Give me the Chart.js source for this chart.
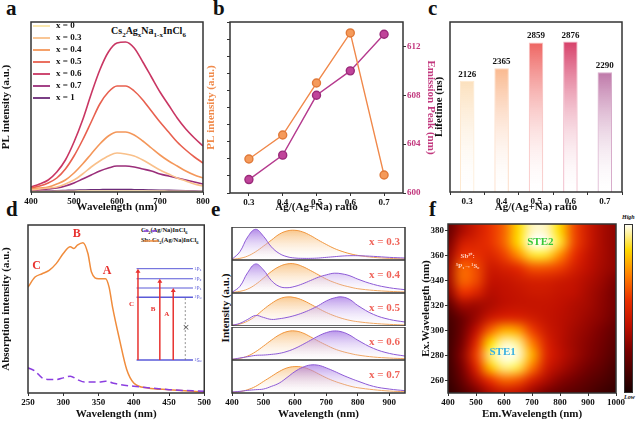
<!DOCTYPE html>
<html><head><meta charset="utf-8">
<script src="https://cdn.jsdelivr.net/npm/chart.js@4.4.0/dist/chart.umd.min.js"></script>
<style>
body{margin:0;width:639px;height:421px;background:#fff;position:relative;overflow:hidden;font-family:"Liberation Serif",serif}
canvas{position:absolute}
.t{position:absolute;font-weight:bold;white-space:nowrap;color:#111}
.L{font-size:21px;font-family:"Liberation Serif",serif}
.rot{transform:rotate(-90deg);transform-origin:center}
sub{font-size:70%}
</style></head><body>
<div class="t L" style="left:6px;top:-4px">a</div>
<div class="t L" style="left:213px;top:-4px">b</div>
<div class="t L" style="left:428px;top:-4px">c</div>
<div class="t L" style="left:6px;top:197px">d</div>
<div class="t L" style="left:211px;top:197px">e</div>
<div class="t L" style="left:429px;top:197px">f</div>
<div class="t" style="left:111px;top:25px;font-size:10px">Cs<sub>2</sub>Ag<sub>x</sub>Na<sub>1-x</sub>InCl<sub>6</sub></div>
<div class="t" style="left:141px;top:226px;font-size:6.5px">Cs<sub>2</sub>(Ag/Na)InCl<sub>6</sub></div>
<div class="t" style="left:141px;top:236px;font-size:6.5px">Sb: Cs<sub>2</sub>(Ag/Na)InCl<sub>6</sub></div>
<div class="t rot" style="left:180px;top:302px;width:90px;text-align:center;font-size:11px">Intensity (a.u.)</div>
<div style="position:absolute;left:624px;top:224px;width:9px;height:169px;border:1px solid #333;box-sizing:border-box;background:linear-gradient(#fffff0,#ffd800 15%,#ff8000 30%,#e83000 45%,#c01000 60%,#7a0000 75%,#1a0000)"></div>
<div class="t" style="left:622px;top:214px;font-size:6px;font-style:italic">High</div>
<div class="t" style="left:624px;top:394px;font-size:6px;font-style:italic">Low</div>
<script>
// ---- panel a: PL spectra ----
const aWave = [400,420,440,460,480,500,520,540,560,580,600,620,640,660,680,700,720,740,760,780,800];
const aLabels = ['x = 0','x = 0.3','x = 0.4','x = 0.5','x = 0.6','x = 0.7','x = 1'];
const aColors = ['#fbe6a6','#f9c08a','#f4975a','#e8604f','#c93663','#9a2e7a','#6b2a78'];
const aX0  = [0.3,0.4,0.5,0.6,0.7,0.8,0.9,1,1,1,1,1,1,1,1,0.9,0.8,0.7,0.6,0.5,0.4];
const aX03 = [2,3,4,5,8,12,18,25,31,36,39,38,36,32,27,22,18,14,11,8,6];
const aX04 = [3,4,5,8,12,19,28,38,48,56,60,60,57,51,44,37,31,26,21,17,14];
const aX05 = [4,6,9,14,23,36,52,70,88,100,106,106,101,92,81,70,60,50,42,35,29];
const aX06 = [5,8,12,20,32,50,72,98,122,140,149,150,144,130,115,100,87,74,63,54,46];
const aX07 = [1,2,3,4,6,9,13,17,21,24,26,26,25,23,21,18,16,14,12,10,8];
const aX1  = [0.5,0.8,1,1.2,1.5,1.8,2,2.2,2.3,2.4,2.4,2.4,2.3,2.2,2,1.8,1.6,1.4,1.2,1,0.8];
const aTicks = [400,500,600,700,800];

// ---- panel b ----
const ratio = [0.3,0.4,0.5,0.6,0.7];
const bPL = [19.9,33.9,64.3,93.6,10.5];
const bPeak = [601.1,603.1,608,610,613];
const bPeakTicks = [600,604,608,612];

// ---- panel c ----
const cLabels = ['0.3','0.4','0.5','0.6','0.7'];
const cLife = [2126,2365,2859,2876,2290];
const cColors = ['#f9c98b','#f79a5e','#ee6360','#d7416a','#9c2f7a'];

// ---- panel d ----
const dWaveSb = [250,260,270,280,290,300,310,315,320,328,335,340,350,360,365,370,380,390,400,420,450,500];
const dAbsSb  = [63,69,71,73,77,83,87,86,88,89.5,83,72,68,68,63,51,31.5,14,6,3,2,0.5];
const dWaveH  = [250,260,270,280,290,300,310,320,330,340,350,360,370,380,400,450,500];
const dAbsH   = [15,13,9,8,8,9,10,8,6.5,6.5,6.5,7,6,5,4,2,1];
const dTicks = [250,300,350,400,450,500];

// ---- panel e ----
const eWave = [400,425,450,475,500,525,550,575,600,625,650,675,700,725,750,775,800,850,900,950];
const eTags = ['x = 0.3','x = 0.4','x = 0.5','x = 0.6','x = 0.7'];
const eOrange = [
  [.02,.05,.12,.25,.42,.6,.78,.88,.9,.85,.74,.6,.47,.35,.26,.19,.14,.08,.05,.03],
  [.02,.05,.12,.26,.45,.65,.8,.88,.88,.8,.68,.55,.42,.32,.24,.18,.13,.08,.05,.03],
  [.02,.06,.15,.3,.5,.68,.82,.88,.86,.78,.66,.53,.41,.31,.23,.17,.13,.08,.05,.03],
  [.02,.05,.12,.25,.42,.6,.76,.86,.88,.82,.7,.57,.45,.34,.26,.2,.15,.09,.06,.04],
  [.02,.04,.1,.2,.35,.5,.65,.76,.8,.78,.7,.58,.46,.36,.28,.21,.16,.1,.06,.04]];
const ePurple = [
  [.02,.25,.7,.93,.72,.4,.2,.1,.06,.05,.05,.06,.08,.1,.12,.13,.13,.11,.08,.06],
  [.02,.2,.62,.88,.7,.38,.2,.16,.2,.28,.38,.48,.55,.6,.58,.52,.42,.26,.16,.1],
  [.02,.08,.2,.32,.26,.2,.22,.26,.32,.4,.5,.62,.76,.85,.88,.8,.62,.35,.2,.12],
  [.02,.06,.1,.14,.15,.17,.2,.26,.35,.47,.6,.73,.83,.88,.85,.75,.6,.35,.2,.12],
  [.03,.05,.08,.1,.12,.2,.3,.47,.65,.78,.85,.84,.76,.66,.55,.45,.36,.2,.12,.07]];
const eTicks = [400,500,600,700,800,900];

// ---- panel f: PLE map, rows ex 380 -> 250, cols em 400..1000 step 50 ----
const fEm = [400,450,500,550,600,650,700,750,800,850,900,950,1000];
const fEx = [380,370,360,350,340,330,320,310,300,290,280,270,260,250];
const fMap = [
  [.2,.35,.45,.55,.65,.85,.97,.97,.85,.6,.45,.35,.3],
  [.25,.45,.5,.55,.65,.85,1,1,.88,.6,.45,.35,.3],
  [.3,.55,.55,.5,.58,.72,.88,.88,.72,.55,.42,.35,.3],
  [.33,.65,.6,.45,.48,.53,.62,.62,.58,.48,.4,.34,.3],
  [.33,.65,.6,.42,.42,.45,.48,.48,.45,.42,.37,.32,.26],
  [.28,.55,.5,.38,.4,.42,.44,.44,.42,.4,.35,.3,.24],
  [.18,.33,.33,.36,.4,.42,.42,.42,.4,.37,.34,.29,.24],
  [.12,.22,.32,.44,.5,.5,.46,.42,.39,.36,.32,.28,.22],
  [.1,.22,.4,.65,.78,.75,.58,.45,.39,.34,.3,.25,.19],
  [.1,.25,.52,.85,.97,.94,.7,.5,.39,.33,.28,.23,.17],
  [.1,.28,.58,.92,1,.98,.78,.52,.4,.33,.27,.21,.15],
  [.09,.25,.5,.8,.93,.9,.68,.46,.36,.29,.23,.18,.12],
  [.08,.2,.36,.55,.65,.62,.48,.36,.28,.23,.18,.14,.1],
  [.06,.14,.24,.36,.42,.4,.32,.25,.2,.17,.14,.1,.07]];
const fTicksX = [400,500,600,700,800,900,1000];
const fTicksY = [260,280,300,320,340,360,380];

const SERIF = 'Liberation Serif';
const tickFont = {family: SERIF, weight: 'bold', size: 9};
const titleFont = {family: SERIF, weight: 'bold', size: 11};
const pts = (xs, ys) => xs.map((x, i) => ({x: x, y: ys[i]}));

const frame = {
  id: 'frame',
  afterDatasetsDraw(chart) {
    const a = chart.chartArea, c = chart.ctx;
    c.save(); c.strokeStyle = '#333'; c.lineWidth = 1.5;
    c.strokeRect(a.left, a.top, a.right - a.left, a.bottom - a.top);
    c.restore();
  }
};

function mk(left, top, w, h, cfg) {
  const cv = document.createElement('canvas');
  cv.width = w; cv.height = h;
  cv.style.left = left + 'px'; cv.style.top = top + 'px';
  cv.style.width = w + 'px'; cv.style.height = h + 'px';
  document.body.appendChild(cv);
  cfg.options = Object.assign({responsive: false, animation: false, devicePixelRatio: 1}, cfg.options);
  cfg.options.plugins = Object.assign({legend: {display: false}, tooltip: {enabled: false}}, cfg.options.plugins || {});
  cfg.plugins = [frame].concat(cfg.plugins || []);
  return new Chart(cv, cfg);
}

function lin(opts) {
  // a linear axis with fixed box size and explicit tick list
  const s = {
    type: 'linear', min: opts.min, max: opts.max, position: opts.pos,
    display: opts.show !== false,
    grid: {drawOnChartArea: false, tickLength: 3, color: '#333', tickColor: '#333'},
    border: {display: false},
    ticks: {font: tickFont, color: opts.color || '#111', padding: 1, autoSkip: false,
      callback: opts.noLabels ? () => '' : (v) => v},
    title: {display: !!opts.title, text: opts.title, font: titleFont, color: opts.color || '#111', padding: 0},
    afterFit: (sc) => { if (opts.pos === 'bottom') sc.height = opts.size; else sc.width = opts.size; }
  };
  if (opts.ticks) s.afterBuildTicks = (sc) => { sc.ticks = opts.ticks.map(v => ({value: v})); };
  return s;
}

// ----- a -----
mk(0, 0, 212, 214, {
  type: 'line',
  data: {datasets: [aX0, aX03, aX04, aX05, aX06, aX07, aX1].map((d, i) => ({
    label: aLabels[i], data: pts(aWave, d), borderColor: aColors[i], borderWidth: 1.6,
    pointRadius: 0, cubicInterpolationMode: 'monotone'}))},
  options: {
    layout: {padding: {top: 22, right: 9}},
    scales: {
      x: lin({min: 400, max: 800, pos: 'bottom', size: 22, ticks: aTicks, title: 'Wavelength (nm)'}),
      y: lin({min: 0, max: 170, pos: 'left', size: 31, ticks: [], title: 'PL intensity (a.u.)'})
    }
  },
  plugins: [{
    id: 'aLegend',
    afterDatasetsDraw(chart) {
      const c = chart.ctx, a = chart.chartArea;
      c.save(); c.font = 'bold 9px "Liberation Serif"'; c.textBaseline = 'middle';
      chart.data.datasets.forEach((ds, i) => {
        const y = a.top + 4 + i * 12;
        c.strokeStyle = ds.borderColor; c.lineWidth = 1.8;
        c.beginPath(); c.moveTo(a.left + 2, y); c.lineTo(a.left + 19, y); c.stroke();
        c.fillStyle = '#111'; c.fillText(ds.label, a.left + 25, y);
      });
      c.restore();
    }
  }]
});

// ----- b -----
mk(205, 0, 232, 214, {
  type: 'line',
  data: {datasets: [
    {data: pts(ratio, bPL), yAxisID: 'y', borderColor: '#f0884a', backgroundColor: '#f59a5a',
      borderWidth: 1.4, pointRadius: 4, pointBorderColor: '#e07a3a'},
    {data: pts(ratio, bPeak), yAxisID: 'y2', borderColor: '#b53a8e', backgroundColor: '#c0449a',
      borderWidth: 1.4, pointRadius: 4, pointBorderColor: '#9a2a7a'}]},
  options: {
    layout: {padding: {top: 22}},
    scales: {
      x: lin({min: 0.244, max: 0.756, pos: 'bottom', size: 21, ticks: ratio, title: 'Ag/(Ag+Na) ratio'}),
      y: lin({min: 0, max: 100, pos: 'left', size: 25, noLabels: true, ticks: [0,10,20,30,40,50,60,70,80,90,100],
        title: 'PL intensity (a.u.)', color: '#f08a4b'}),
      y2: lin({min: 600, max: 614, pos: 'right', size: 34, ticks: bPeakTicks,
        title: 'Emission Peak (nm)', color: '#c2387e'})
    }
  }
});

// ----- c -----
mk(433, 0, 206, 214, {
  type: 'bar',
  data: {labels: cLabels, datasets: [{
    data: cLife, borderWidth: 1, barPercentage: 0.42, categoryPercentage: 1,
    borderColor: cColors.map(c => c + '66'),
    backgroundColor: (ctx) => {
      const a = ctx.chart.chartArea; if (!a) return cColors[ctx.dataIndex];
      const g = ctx.chart.ctx.createLinearGradient(0, a.top + 20, 0, a.bottom);
      g.addColorStop(0, cColors[ctx.dataIndex]); g.addColorStop(1, 'rgba(255,255,255,0.1)');
      return g;
    }}]},
  options: {
    layout: {padding: {top: 22, right: 17}},
    scales: {
      x: {type: 'category', offset: true, grid: {drawOnChartArea: false, tickLength: 3, color: '#333'},
        border: {display: false}, ticks: {font: tickFont, color: '#111', padding: 1},
        title: {display: true, text: 'Ag/(Ag+Na) ratio', font: titleFont, color: '#111', padding: 0},
        afterFit: (s) => { s.height = 22; }},
      y: lin({min: 0, max: 3250, pos: 'left', size: 17, ticks: [], title: 'Lifetime (ns)'})
    }
  },
  plugins: [{
    id: 'cVals',
    afterDatasetsDraw(chart) {
      const c = chart.ctx; c.save(); c.font = 'bold 9px "Liberation Serif"';
      c.textAlign = 'center'; c.fillStyle = '#111';
      chart.getDatasetMeta(0).data.forEach((b, i) => c.fillText(cLife[i], b.x, b.y - 4));
      c.restore();
    }
  }]
});

// ----- d -----
mk(0, 212, 212, 209, {
  type: 'line',
  data: {datasets: [
    {data: pts(dWaveH, dAbsH), borderColor: '#8b3ee0', borderDash: [7, 4], borderWidth: 1.5, pointRadius: 0, cubicInterpolationMode: 'monotone'},
    {data: pts(dWaveSb, dAbsSb), borderColor: '#f08c3c', borderWidth: 1.5, pointRadius: 0, cubicInterpolationMode: 'monotone'}]},
  options: {
    layout: {padding: {top: 13, right: 7}},
    scales: {
      x: lin({min: 250, max: 500, pos: 'bottom', size: 28, ticks: dTicks, title: 'Wavelength (nm)'}),
      y: lin({min: 0, max: 100, pos: 'left', size: 28, ticks: [], title: 'Absorption intensity (a.u.)'})
    }
  },
  plugins: [{
    id: 'dNotes',
    afterDatasetsDraw(chart) {
      const c = chart.ctx, X = chart.scales.x, Y = chart.scales.y;
      const px = (w) => X.getPixelForValue(w), py = (v) => Y.getPixelForValue(v);
      c.save();
      c.font = 'bold 12px "Liberation Serif"'; c.fillStyle = '#e8322f'; c.textAlign = 'center';
      c.fillText('C', px(262), py(74)); c.fillText('B', px(319), py(93)); c.fillText('A', px(362), py(71));
      // legend marks
      c.strokeStyle = '#8b3ee0'; c.lineWidth = 1.5; c.setLineDash([5, 3]);
      c.beginPath(); c.moveTo(px(414), py(96.5)); c.lineTo(px(435), py(96.5)); c.stroke();
      c.setLineDash([]); c.strokeStyle = '#f08c3c';
      c.beginPath(); c.moveTo(px(414), py(90.5)); c.lineTo(px(435), py(90.5)); c.stroke();
      // energy level inset
      const levels = [74, 68, 62.5, 57], names = ['¹P₁', '³P₂', '³P₁', '³P₀'];
      c.strokeStyle = '#5a5ad8'; c.lineWidth = 1;
      levels.forEach((v, i) => {
        c.lineWidth = i === 3 ? 1.6 : 1;
        c.beginPath(); c.moveTo(px(404), py(v)); c.lineTo(px(484), py(v)); c.stroke();
      });
      c.lineWidth = 1.6; c.beginPath(); c.moveTo(px(404), py(19.6)); c.lineTo(px(484), py(19.6)); c.stroke();
      c.font = '5px "DejaVu Sans"'; c.fillStyle = '#5a5ad8'; c.textAlign = 'left';
      levels.forEach((v, i) => c.fillText(names[i], px(486), py(v) + 2));
      c.fillText('¹S₀', px(486), py(19.6) + 2);
      const arrows = [[406, 74, 'C'], [437, 68, 'B'], [456, 62.5, 'A']];
      c.strokeStyle = '#e8322f'; c.fillStyle = '#e8322f'; c.font = 'bold 7px "Liberation Serif"';
      arrows.forEach(([w, v, l]) => {
        c.lineWidth = 1.5;
        c.beginPath(); c.moveTo(px(w), py(19.6)); c.lineTo(px(w), py(v) + 3); c.stroke();
        c.beginPath(); c.moveTo(px(w) - 2.5, py(v) + 4); c.lineTo(px(w) + 2.5, py(v) + 4); c.lineTo(px(w), py(v)); c.fill();
        c.fillText(l, px(w) - 9, py((v + 19.6) / 2 + 5));
      });
      c.strokeStyle = '#777'; c.lineWidth = 0.8; c.setLineDash([2, 2]);
      c.beginPath(); c.moveTo(px(473), py(19.6)); c.lineTo(px(473), py(57)); c.stroke();
      c.setLineDash([]); c.font = '9px "DejaVu Sans"'; c.fillStyle = '#555';
      c.fillText('×', px(473) - 3, py(39) + 3);
      c.restore();
    }
  }]
});

// ----- e: five stacked panels -----
const eTops = [227, 260, 293, 327, 360];
eTags.forEach((tag, k) => {
  const last = k === 4;
  const h = 33 + (last ? 28 : 0);
  const fill = (rgba) => (ctx) => {
    const a = ctx.chart.chartArea; if (!a) return rgba;
    const g = ctx.chart.ctx.createLinearGradient(0, a.top, 0, a.bottom);
    g.addColorStop(0, rgba); g.addColorStop(1, 'rgba(255,255,255,0.15)');
    return g;
  };
  mk(215, eTops[k], 205, h, {
    type: 'line',
    data: {datasets: [
      {data: pts(eWave, ePurple[k]), borderColor: '#8d5ad6', borderWidth: 1, pointRadius: 0, tension: 0.4,
        fill: 'origin', backgroundColor: fill('rgba(140,80,220,0.75)')},
      {data: pts(eWave, eOrange[k]), borderColor: '#f0953c', borderWidth: 1, pointRadius: 0, tension: 0.4,
        fill: 'origin', backgroundColor: fill('rgba(245,160,60,0.7)')}]},
    options: {
      layout: {padding: {left: 17, right: 15}},
      scales: {
        x: last ? lin({min: 400, max: 950, pos: 'bottom', size: 28, ticks: eTicks, title: 'Wavelength (nm)'})
                : {type: 'linear', min: 400, max: 950, display: false},
        y: {type: 'linear', min: 0, max: 1, display: false}
      }
    },
    plugins: [{
      id: 'eTag',
      afterDatasetsDraw(chart) {
        const c = chart.ctx, a = chart.chartArea;
        c.save(); c.font = 'bold 11px "Liberation Serif"'; c.fillStyle = '#f0645a'; c.textAlign = 'right';
        c.fillText(tag, a.right - 5, a.top + 18); c.restore();
      }
    }]
  });
});

// ----- f: heat map -----
const cmap = [[0, [26, 0, 0]], [0.25, [122, 0, 0]], [0.4, [192, 16, 0]], [0.55, [232, 48, 0]],
  [0.7, [255, 128, 0]], [0.85, [255, 216, 0]], [1, [255, 255, 240]]];
function colorAt(v) {
  for (let i = 1; i < cmap.length; i++) {
    if (v <= cmap[i][0]) {
      const [a, ca] = cmap[i - 1], [b, cb] = cmap[i], t = (v - a) / (b - a);
      return ca.map((q, j) => Math.round(q + (cb[j] - q) * t));
    }
  }
  return cmap[cmap.length - 1][1];
}
mk(420, 212, 219, 209, {
  type: 'scatter',
  data: {datasets: [{data: []}]},
  options: {
    layout: {padding: {top: 12, right: 23}},
    scales: {
      x: lin({min: 400, max: 1000, pos: 'bottom', size: 28, ticks: fTicksX, title: 'Em.Wavelength (nm)'}),
      y: lin({min: 250, max: 385, pos: 'left', size: 28, ticks: fTicksY, title: 'Ex.Wavelength (nm)'})
    }
  },
  plugins: [{
    id: 'heat',
    beforeDatasetsDraw(chart) {
      const c = chart.ctx, a = chart.chartArea, X = chart.scales.x, Y = chart.scales.y;
      const off = document.createElement('canvas');
      off.width = fEm.length; off.height = fEx.length;
      const oc = off.getContext('2d'), img = oc.createImageData(off.width, off.height);
      fMap.forEach((row, r) => row.forEach((v, q) => {
        const col = colorAt(v), p = (r * off.width + q) * 4;
        img.data[p] = col[0]; img.data[p + 1] = col[1]; img.data[p + 2] = col[2]; img.data[p + 3] = 255;
      }));
      oc.putImageData(img, 0, 0);
      const x0 = X.getPixelForValue(fEm[0] - 25), x1 = X.getPixelForValue(fEm[fEm.length - 1] + 25);
      const y0 = Y.getPixelForValue(fEx[0] + 5), y1 = Y.getPixelForValue(fEx[fEx.length - 1] - 5);
      c.save();
      c.beginPath(); c.rect(a.left, a.top, a.right - a.left, a.bottom - a.top); c.clip();
      c.imageSmoothingEnabled = true; c.imageSmoothingQuality = 'high';
      c.drawImage(off, x0, y0, x1 - x0, y1 - y0);
      c.textAlign = 'center';
      c.font = 'bold 11px "Liberation Serif"';
      c.fillStyle = '#3ab0e0'; c.fillText('STE1', X.getPixelForValue(595), Y.getPixelForValue(280));
      c.fillStyle = '#38c838'; c.fillText('STE2', X.getPixelForValue(730), Y.getPixelForValue(368));
      c.font = 'bold 7px "Liberation Serif"'; c.fillStyle = '#ffd0c0';
      c.fillText('Sb³⁺:', X.getPixelForValue(470), Y.getPixelForValue(358));
      c.fillText('³P₁→¹S₀', X.getPixelForValue(470), Y.getPixelForValue(350));
      c.restore();
    }
  }]
});
</script>
</body></html>
